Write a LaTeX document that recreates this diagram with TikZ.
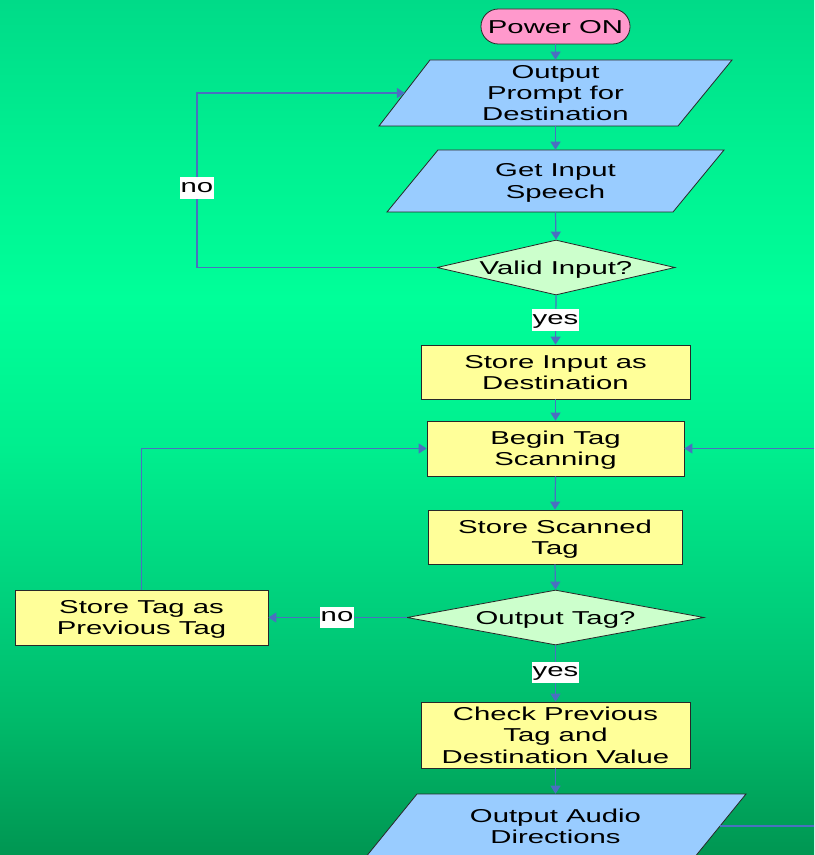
\documentclass[tikz,border=0pt]{standalone}
\usepackage{fontspec}
\setmainfont{Liberation Sans}
\usepackage{graphicx}
\usetikzlibrary{shapes.geometric,arrows.meta,calc}
\definecolor{gA}{RGB}{0,219,136}
\definecolor{gB}{RGB}{0,240,145}
\definecolor{gC}{RGB}{0,255,153}
\definecolor{gD}{RGB}{0,238,142}
\definecolor{gE}{RGB}{0,205,122}
\definecolor{gF}{RGB}{0,186,106}
\definecolor{gG}{RGB}{0,150,82}
\definecolor{pinkfill}{RGB}{255,153,204}
\definecolor{bluefill}{RGB}{153,204,255}
\definecolor{yellowfill}{RGB}{255,255,153}
\definecolor{mintfill}{RGB}{204,255,204}
\definecolor{connblue}{RGB}{74,112,192}
\definecolor{edgedark}{RGB}{40,40,40}
\pgfdeclareverticalshading{bgsh}{100bp}{color(0bp)=(gG); color(25bp)=(gG); color(32.89bp)=(gF); color(38.74bp)=(gE); color(48.68bp)=(gD); color(57.46bp)=(gC); color(66.23bp)=(gB); color(75bp)=(gA); color(100bp)=(gA)}
\newcommand\wt[1]{\raisebox{-1.8pt}[\height][\depth]{\scalebox{1.57}[1]{\begin{tabular}{@{}c@{}}#1\end{tabular}}}}
\newcommand\lt[1]{\scalebox{1.57}[1]{\strut #1}}
\begin{document}
\begin{tikzpicture}[x=0.75pt,y=-0.75pt,
  every node/.style={font=\fontsize{14}{16}\selectfont, text=black},
  term/.style={draw=edgedark, line width=0.6pt, fill=pinkfill, rectangle, rounded corners=13pt, minimum width=111.75pt, minimum height=26.25pt, inner sep=0pt},
  io/.style={rectangle, inner sep=0pt},
  parashape/.style={draw=edgedark, line width=0.6pt, fill=bluefill},
  procbox/.style={draw=edgedark, line width=0.6pt, fill=yellowfill, rectangle, inner sep=0pt},
  decide/.style={draw=edgedark, line width=0.6pt, fill=mintfill, diamond, inner sep=0pt},
  lbl/.style={fill=white, inner xsep=0.6pt, inner ysep=0.2pt},
  conn/.style={draw=connblue, line width=0.9pt, -{Triangle[length=6pt,width=7.5pt]}},
  plainline/.style={draw=connblue, line width=0.9pt}
]
\useasboundingbox (0,0) rectangle (814,855);
\shade[shading=bgsh] (0,0) rectangle (814,855);

% parallelogram outlines
\path[parashape] (430,60) -- (732,60) -- (678,126) -- (379,126) -- cycle;
\path[parashape] (438,150) -- (724,150) -- (673,212) -- (387,212) -- cycle;
\path[parashape] (417,794) -- (746,794) -- (694,858) -- (365,858) -- cycle;

% nodes
\node[term] (pw) at (555.5,26.5) {\wt{Power ON}};
\node[io, minimum width=225.4pt, minimum height=49.5pt] (op) at (555.5,93) {\wt{Output\\Prompt for\\Destination}};
\node[io, minimum width=214.5pt, minimum height=46.5pt] (gi) at (555.5,181) {\wt{Get Input\\Speech}};
\node[decide, minimum width=178.5pt, minimum height=41.25pt] (vi) at (556,267.5) {\makebox[0pt]{\wt{Valid Input?}}};
\node[procbox, minimum width=201.75pt, minimum height=40.5pt] (si) at (555.5,372) {\wt{Store Input as\\Destination}};
\node[procbox, minimum width=192.75pt, minimum height=41.25pt] (bt) at (555.5,448.5) {\wt{Begin Tag\\Scanning}};
\node[procbox, minimum width=190.5pt, minimum height=40.5pt] (ss) at (555,537) {\wt{Store Scanned\\Tag}};
\node[decide, minimum width=222.75pt, minimum height=41.25pt] (ot) at (555.5,617.5) {\makebox[0pt]{\wt{Output Tag?}}};
\node[procbox, minimum width=189.75pt, minimum height=41.25pt] (st) at (141.5,617.5) {\wt{Store Tag as\\Previous Tag}};
\node[procbox, minimum width=201.75pt, minimum height=49.5pt] (cp) at (555.5,735) {\wt{Check Previous\\Tag and\\Destination Value}};
\node[io, minimum width=246.75pt, minimum height=48pt] (oa) at (555.5,826) {\wt{Output Audio\\Directions}};

\coordinate (c1) at (197,267.5);
\coordinate (redge) at (814,0);

% connectors
\draw[conn] (pw.south) -- (op.north);
\draw[conn] (op.south) -- (gi.north);
\draw[conn] (gi.south) -- (vi.north);
\draw[conn] (vi.west) -- (c1) |- (op.west);
\draw[conn] (vi.south) -- (si.north);
\draw[conn] (si.south) -- (bt.north);
\draw[conn] (bt.south) -- (ss.north);
\draw[conn] (ss.south) -- (ot.north);
\draw[conn] (ot.west) -- (st.east);
\draw[conn] (st.north) |- (bt.west);
\draw[conn] (ot.south) -- (cp.north);
\draw[conn] (cp.south) -- (oa.north);
\draw[plainline] (oa.east) -- (oa.east -| redge);
\draw[conn] (bt.east -| redge) -- (bt.east);

% labels
\node[lbl] (no1) at (197,188) {\lt{no}};
\node[lbl] (yes1) at (555.5,320) {\lt{yes}};
\node[lbl] (no2) at (337,617.5) {\lt{no}};
\node[lbl] (yes2) at (555.5,672.5) {\lt{yes}};
\end{tikzpicture}
\end{document}
